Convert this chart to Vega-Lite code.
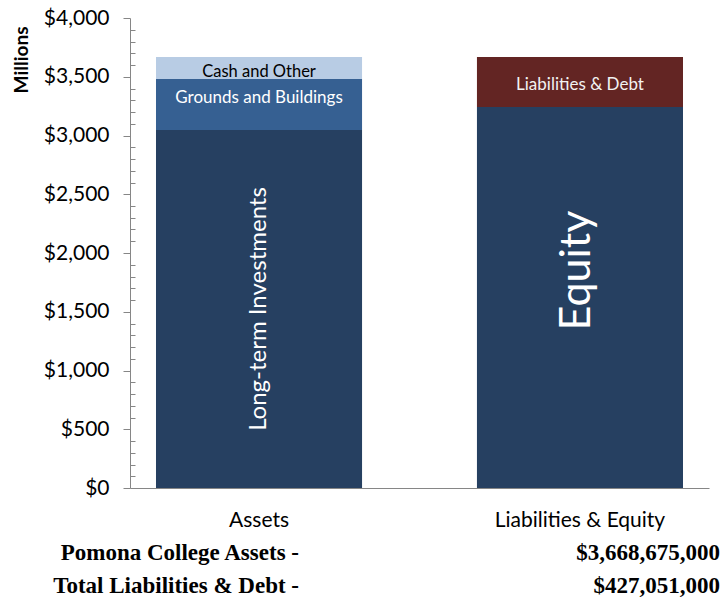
{
  "$schema": "https://vega.github.io/schema/vega-lite/v6.json",
  "padding": {"left": 12, "top": 7, "right": 5, "bottom": 0},
  "background": "white",
  "spacing": 12,
  "config": {"view": {"stroke": null}, "font": "Lato"},
  "datasets": {
    "bars": [
      {"category": "Assets", "segment": "Long-term Investments", "amount": 3047, "seq": 1},
      {"category": "Assets", "segment": "Grounds and Buildings", "amount": 434, "seq": 2},
      {"category": "Assets", "segment": "Cash and Other", "amount": 187.675, "seq": 3},
      {"category": "Liabilities & Equity", "segment": "Equity", "amount": 3241.624, "seq": 1},
      {"category": "Liabilities & Equity", "segment": "Liabilities & Debt", "amount": 427.051, "seq": 2}
    ],
    "totals": [
      {"line": 1, "label": "Pomona College Assets -", "figure": "$3,668,675,000"},
      {"line": 2, "label": "Total Liabilities & Debt -", "figure": "$427,051,000"}
    ]
  },
  "vconcat": [
    {
      "width": 579,
      "height": 470,
      "data": {"name": "bars"},
      "transform": [
        {"stack": "amount", "groupby": ["category"], "sort": [{"field": "seq"}], "as": ["y0", "y1"]},
        {"calculate": "(datum.y0 + datum.y1) / 2", "as": "mid"}
      ],
      "resolve": {"axis": {"y": "independent"}},
      "encoding": {
        "x": {
          "field": "category",
          "type": "nominal",
          "scale": {"paddingInner": 0.358, "paddingOuter": 0.081},
          "axis": {
            "title": null,
            "labelAngle": 0,
            "labelFontSize": 21,
            "labelColor": "black",
            "labelPadding": 21,
            "ticks": false,
            "domainColor": "#868686"
          }
        }
      },
      "layer": [
        {
          "mark": {"type": "bar"},
          "encoding": {
            "y": {
              "field": "y0",
              "type": "quantitative",
              "scale": {"domain": [0, 4000]},
              "axis": {
                "title": "Millions",
                "titleFontWeight": "bold",
                "titleFontSize": 19,
                "titleColor": "black",
                "titleAnchor": "end",
                "titleY": 8,
                "titlePadding": 12,
                "values": [0,100,200,300,400,500,600,700,800,900,1000,1100,1200,1300,1400,1500,1600,1700,1800,1900,2000,2100,2200,2300,2400,2500,2600,2700,2800,2900,3000,3100,3200,3300,3400,3500,3600,3700,3800,3900,4000],
                "labelExpr": "datum.value % 500 === 0 ? '$' + format(datum.value, ',') : ''",
                "labelOverlap": false,
                "labelFontSize": 21,
                "labelColor": "black",
                "labelPadding": 14,
                "tickSize": {"condition": {"test": "datum.value % 500 === 0", "value": 7}, "value": -5},
                "tickColor": "#868686",
                "domainColor": "#868686",
                "grid": false
              }
            },
            "y2": {"field": "y1"},
            "color": {
              "field": "segment",
              "type": "nominal",
              "scale": {
                "domain": ["Long-term Investments", "Grounds and Buildings", "Cash and Other", "Equity", "Liabilities & Debt"],
                "range": ["#264061", "#366092", "#b8cce4", "#264061", "#632523"]
              },
              "legend": null
            }
          }
        },
        {
          "transform": [{"filter": "datum.segment === 'Cash and Other'"}],
          "mark": {"type": "text", "fontSize": 16.5, "color": "black", "baseline": "middle", "dy": 4},
          "encoding": {"y": {"field": "mid", "type": "quantitative", "axis": null}, "text": {"field": "segment"}}
        },
        {
          "transform": [{"filter": "datum.segment === 'Grounds and Buildings'"}],
          "mark": {"type": "text", "fontSize": 17, "color": "white", "baseline": "middle", "dy": -6},
          "encoding": {"y": {"field": "mid", "type": "quantitative", "axis": null}, "text": {"field": "segment"}}
        },
        {
          "transform": [{"filter": "datum.segment === 'Liabilities & Debt'"}],
          "mark": {"type": "text", "fontSize": 17, "color": "#f2f2f2", "baseline": "middle", "dy": 3},
          "encoding": {"y": {"field": "mid", "type": "quantitative", "axis": null}, "text": {"field": "segment"}}
        },
        {
          "transform": [{"filter": "datum.segment === 'Long-term Investments'"}],
          "mark": {"type": "text", "fontSize": 24, "color": "white", "baseline": "middle", "angle": 270},
          "encoding": {"y": {"field": "mid", "type": "quantitative", "axis": null}, "text": {"field": "segment"}}
        },
        {
          "transform": [{"filter": "datum.segment === 'Equity'"}],
          "mark": {"type": "text", "fontSize": 43, "color": "white", "baseline": "middle", "angle": 270, "dx": 27, "dy": -3},
          "encoding": {"y": {"field": "mid", "type": "quantitative", "axis": null}, "text": {"field": "segment"}}
        }
      ]
    },
    {
      "width": 579,
      "height": 33,
      "data": {"name": "totals"},
      "transform": [{"fold": ["label", "figure"], "as": ["col", "txt"]}],
      "mark": {"type": "text", "align": "right", "baseline": "middle", "font": "Liberation Serif", "fontWeight": "bold", "fontSize": 23, "color": "black"},
      "encoding": {
        "x": {"field": "col", "type": "nominal", "scale": {"type": "point", "domain": ["label", "figure"], "range": [169, 590], "padding": 0}, "axis": null},
        "y": {"field": "line", "type": "ordinal", "scale": {"type": "point", "padding": 0}, "axis": null},
        "text": {"field": "txt"}
      }
    }
  ]
}
